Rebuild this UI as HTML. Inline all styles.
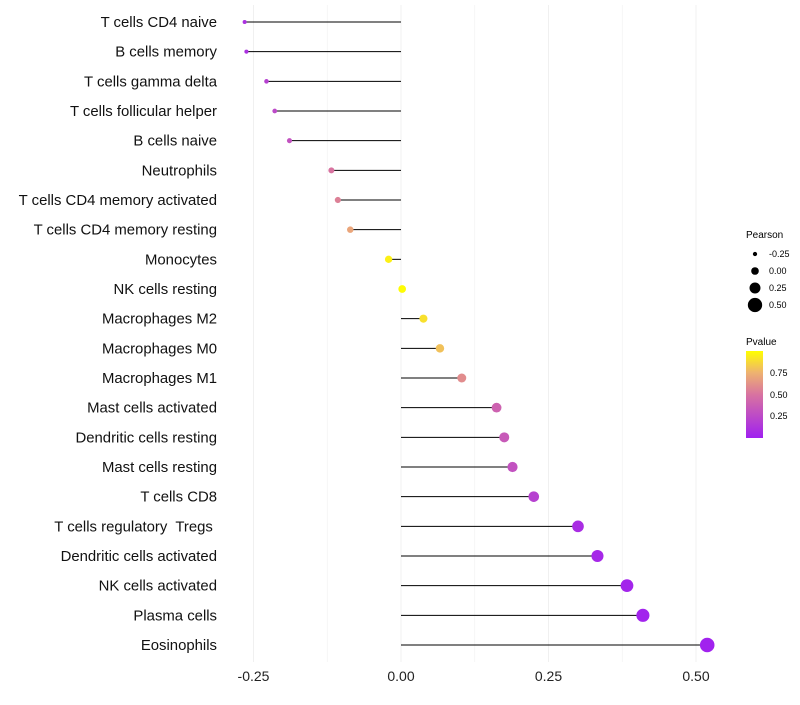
<!DOCTYPE html>
<html><head><meta charset="utf-8"><style>
body{margin:0;background:#fff;font-family:"Liberation Sans",sans-serif}
text{white-space:pre}
</style></head><body>
<svg id="chart" width="800" height="700" xmlns="http://www.w3.org/2000/svg">
<defs><linearGradient id="pg" x1="0" y1="1" x2="0" y2="0">
<stop offset="0" stop-color="#a020f0"/><stop offset="0.5" stop-color="#d873a0"/><stop offset="0.75" stop-color="#eeb270"/><stop offset="1" stop-color="#ffff00"/></linearGradient></defs>
<g id="grid"></g><g id="marks"></g><g id="labels"></g>
<g font-size="9">
<text x="746" y="238" font-size="10">Pearson</text>
<g id="sizeleg"></g>
<text x="746" y="345" font-size="10">Pvalue</text>
<rect x="746" y="351" width="17" height="87" fill="url(#pg)"/>
<text x="770" y="376">0.75</text>
<text x="770" y="398">0.50</text>
<text x="770" y="419">0.25</text>
</g>
</svg>
<script>
const cells=["T cells CD4 naive","B cells memory","T cells gamma delta","T cells follicular helper","B cells naive","Neutrophils","T cells CD4 memory activated","T cells CD4 memory resting","Monocytes","NK cells resting","Macrophages M2","Macrophages M0","Macrophages M1","Mast cells activated","Dendritic cells resting","Mast cells resting","T cells CD8","T cells regulatory  Tregs ","Dendritic cells activated","NK cells activated","Plasma cells","Eosinophils"];
const pearson=[-0.265,-0.262,-0.228,-0.214,-0.189,-0.118,-0.107,-0.086,-0.021,0.002,0.038,0.066,0.103,0.162,0.175,0.189,0.225,0.300,0.333,0.383,0.410,0.519];
const pvalue=[0.1,0.1,0.2,0.25,0.3,0.5,0.55,0.7,0.95,0.99,0.9,0.8,0.6,0.4,0.35,0.3,0.2,0.08,0.05,0.03,0.02,0.01];
const xticks=[-0.25,0,0.25,0.5];
const xtickLabels=["-0.25","0.00","0.25","0.50"];
const sizeBreaks=[-0.25,0,0.25,0.5];
const NS="http://www.w3.org/2000/svg";
const X=v=>401+v*590;
const Y=i=>22+i*(623/21);
const R=v=>2+(v+0.27)*6.7;
const stops=[[0,[160,32,240]],[0.5,[216,115,160]],[0.75,[238,178,112]],[1,[255,255,0]]];
function col(p){for(let k=1;k<stops.length;k++){if(p<=stops[k][0]){const a=stops[k-1],b=stops[k],t=(p-a[0])/(b[0]-a[0]);return "rgb("+a[1].map((c,j)=>Math.round(c+(b[1][j]-c)*t)).join(",")+")";}}return "rgb(255,255,0)";}
function mk(t,at,parent){const e=document.createElementNS(NS,t);for(const k in at)e.setAttribute(k,at[k]);document.getElementById(parent).appendChild(e);return e;}
[-0.25,-0.125,0,0.125,0.25,0.375,0.5].forEach(v=>{const l=mk("line",{x1:X(v),x2:X(v),y1:5,y2:662,stroke:"#f0f0f0","stroke-width":xticks.includes(v)?1:0.6},"grid");

});
xticks.forEach((v,i)=>{const t=mk("text",{x:X(v),y:681,"text-anchor":"middle","font-size":14,fill:"#222"},"labels");t.textContent=xtickLabels[i];

});
cells.forEach((c,i)=>{
const y=Y(i);
const l=mk("line",{x1:X(0),x2:X(pearson[i]),y1:y,y2:y,stroke:"#000","stroke-width":1},"marks");


const d=mk("circle",{cx:X(pearson[i]),cy:y,r:R(pearson[i]),fill:col(pvalue[i])},"marks");


const t=mk("text",{x:217,y:y+5,"text-anchor":"end","font-size":14.9,fill:"#111"},"labels");t.textContent=c;

});
sizeBreaks.forEach((v,i)=>{const y=254+i*17;
const d=mk("circle",{cx:755,cy:y,r:R(v),fill:"#000"},"sizeleg");


const t=mk("text",{x:769,y:y+3,"font-size":9},"sizeleg");t.textContent=v.toFixed(2);

});
</script>
</body></html>
